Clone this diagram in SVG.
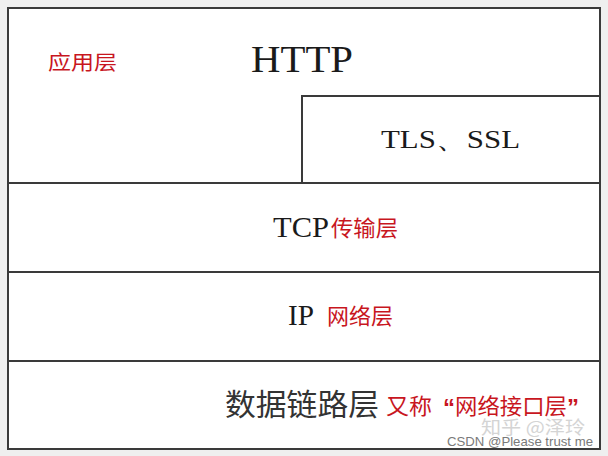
<svg xmlns="http://www.w3.org/2000/svg" width="608" height="456" viewBox="0 0 608 456">
  <style>
    .box { fill: #ffffff; stroke: #3a3a3a; stroke-width: 2; }
    .en { font-family: "Liberation Serif", "Times New Roman", serif; fill: #1a1a1a; }
    .cn { font-family: "Noto Sans CJK SC", "Noto Sans", sans-serif; fill: #c8161e; }
    .cnb { font-family: "Noto Sans CJK SC", "Noto Sans", sans-serif; fill: #333333; }
    .q { font-family: "Liberation Sans", Arial, sans-serif; fill: #c8161e; }
  </style>
  <rect x="0" y="0" width="608" height="456" fill="#efefef"/>
  <g id="application-layer">
    <rect class="box" x="8" y="8" width="592" height="175"/>
    <text class="cn" x="48" y="70" font-size="20" textLength="69" lengthAdjust="spacingAndGlyphs">应用层</text>
    <text class="en" x="251" y="72" font-size="37" textLength="102" lengthAdjust="spacingAndGlyphs">HTTP</text>
  </g>
  <g id="tls-ssl">
    <rect class="box" x="302" y="96" width="298" height="87"/>
    <text class="en" x="381" y="148" font-size="26" textLength="139" lengthAdjust="spacingAndGlyphs">TLS、SSL</text>
  </g>
  <g id="transport-layer">
    <rect class="box" x="8" y="183" width="592" height="89"/>
    <text class="en" x="273" y="237" font-size="29" textLength="56" lengthAdjust="spacingAndGlyphs">TCP</text>
    <text class="cn" x="331" y="236" font-size="22" textLength="67" lengthAdjust="spacingAndGlyphs">传输层</text>
  </g>
  <g id="network-layer">
    <rect class="box" x="8" y="272" width="592" height="89"/>
    <text class="en" x="288" y="325" font-size="29" textLength="26" lengthAdjust="spacingAndGlyphs">IP</text>
    <text class="cn" x="327" y="324" font-size="22" textLength="66" lengthAdjust="spacingAndGlyphs">网络层</text>
  </g>
  <g id="link-layer">
    <rect class="box" x="8" y="361" width="592" height="88"/>
    <text class="cnb" x="225" y="415" font-size="30" textLength="154" lengthAdjust="spacingAndGlyphs">数据链路层</text>
    <text class="cn" x="386" y="414" font-size="22" textLength="46" lengthAdjust="spacingAndGlyphs">又称</text>
    <text class="q" x="443" y="416" font-size="24" font-weight="bold">“</text>
    <text class="cn" x="455" y="414" font-size="22" textLength="112" lengthAdjust="spacingAndGlyphs">网络接口层</text>
    <text class="q" x="567" y="416" font-size="24" font-weight="bold">”</text>
  </g>
  <g id="watermark">
    <text x="481" y="434" font-family="Noto Sans CJK SC, sans-serif" font-size="18" fill="#d4d4d4" textLength="104" lengthAdjust="spacingAndGlyphs">知乎 @泽玲</text>
    <text x="447" y="446" font-family="Liberation Sans, Arial, sans-serif" font-size="13" fill="#7a7a7a" textLength="146" lengthAdjust="spacingAndGlyphs">CSDN @Please trust me</text>
  </g>
</svg>
